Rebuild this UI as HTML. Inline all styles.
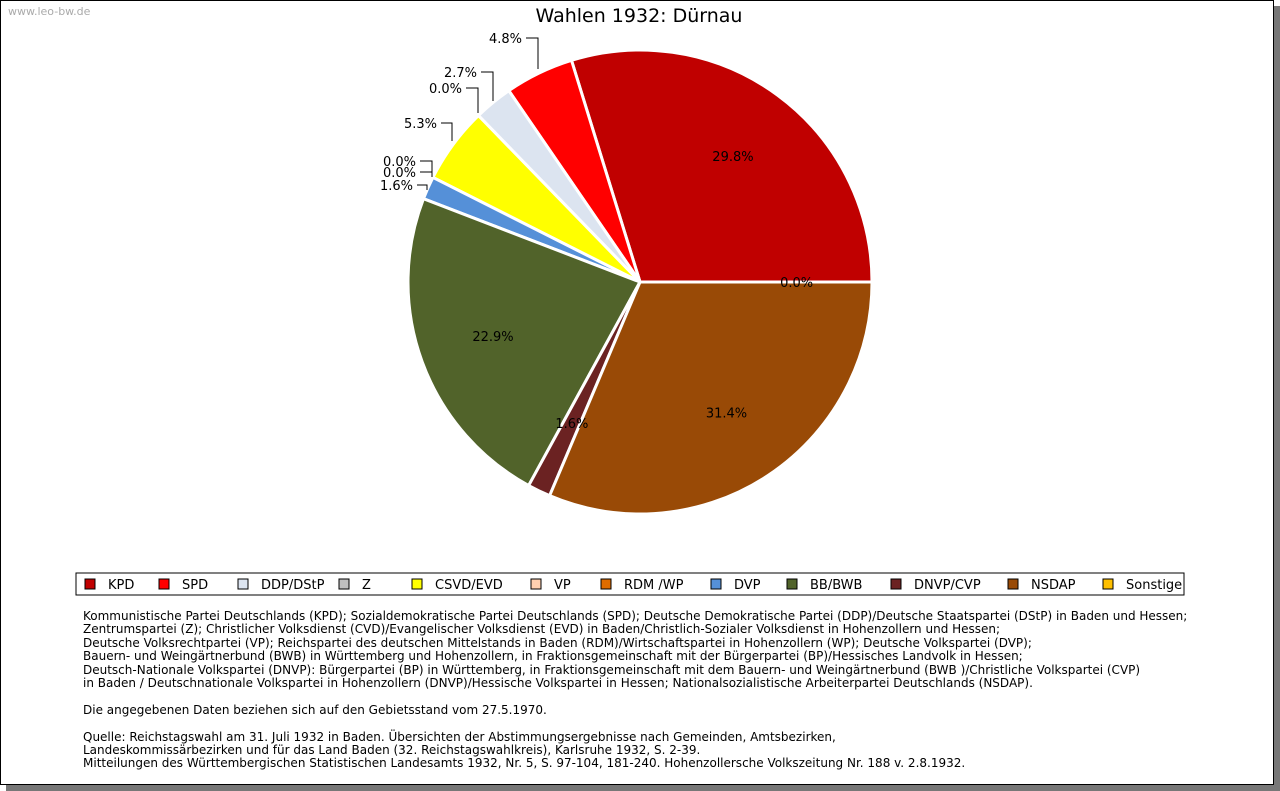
<!DOCTYPE html>
<html><head><meta charset="utf-8"><style>
body{margin:0;background:#fff;font-family:"DejaVu Sans","Liberation Sans",sans-serif}
#frame{position:absolute;left:0;top:0;width:1272px;height:783px;border:1px solid #000;background:#fff;box-shadow:6px 6px 0 #777}
#wm{position:absolute;left:7px;top:4px;font-size:11px;color:#aaa}
#notes{position:absolute;left:82px;top:609px;font-size:12px;line-height:13.4px;color:#000;white-space:pre}
</style></head><body>
<div id="frame">
<div id="wm">www.leo-bw.de</div>
<svg id="svg" width="1274" height="600" style="position:absolute;left:0;top:0">
<text x="638" y="21" text-anchor="middle" font-size="19">Wahlen 1932: Dürnau</text>
<g id="slices"></g><g id="labels" font-size="13"></g>
<rect x="75" y="572" width="1108" height="22" fill="#fff" stroke="#000"/>
<g id="legend" font-size="13"></g>
</svg>
<div id="notes">Kommunistische Partei Deutschlands (KPD); Sozialdemokratische Partei Deutschlands (SPD); Deutsche Demokratische Partei (DDP)/Deutsche Staatspartei (DStP) in Baden und Hessen;
Zentrumspartei (Z); Christlicher Volksdienst (CVD)/Evangelischer Volksdienst (EVD) in Baden/Christlich-Sozialer Volksdienst in Hohenzollern und Hessen;
Deutsche Volksrechtpartei (VP); Reichspartei des deutschen Mittelstands in Baden (RDM)/Wirtschaftspartei in Hohenzollern (WP); Deutsche Volkspartei (DVP);
Bauern- und Weingärtnerbund (BWB) in Württemberg und Hohenzollern, in Fraktionsgemeinschaft mit der Bürgerpartei (BP)/Hessisches Landvolk in Hessen;
Deutsch-Nationale Volkspartei (DNVP): Bürgerpartei (BP) in Württemberg, in Fraktionsgemeinschaft mit dem Bauern- und Weingärtnerbund (BWB )/Christliche Volkspartei (CVP)
in Baden / Deutschnationale Volkspartei in Hohenzollern (DNVP)/Hessische Volkspartei in Hessen; Nationalsozialistische Arbeiterpartei Deutschlands (NSDAP).

Die angegebenen Daten beziehen sich auf den Gebietsstand vom 27.5.1970.

Quelle: Reichstagswahl am 31. Juli 1932 in Baden. Übersichten der Abstimmungsergebnisse nach Gemeinden, Amtsbezirken,
Landeskommissärbezirken und für das Land Baden (32. Reichstagswahlkreis), Karlsruhe 1932, S. 2-39.
Mitteilungen des Württembergischen Statistischen Landesamts 1932, Nr. 5, S. 97-104, 181-240. Hohenzollersche Volkszeitung Nr. 188 v. 2.8.1932.</div>
</div>
<script>
const parties=["KPD","SPD","DDP/DStP","Z","CSVD/EVD","VP","RDM /WP","DVP","BB/BWB","DNVP/CVP","NSDAP","Sonstige"];
const values=[29.8,4.8,2.7,0.0,5.3,0.0,0.0,1.6,22.9,1.6,31.4,0.0];
const colors=["#c00000","#ff0000","#dce4f0","#c0c0c0","#ffff00","#ffd0b0","#e06c00","#5590d8","#51632a","#6b2222","#994a06","#ffc000"];
const legendX=[84,158,237,338,411,530,600,710,786,890,1007,1102];
const cx=639,cy=281,R=232,NS="http://www.w3.org/2000/svg";
const total=values.reduce((a,b)=>a+b,0);
function pt(a,r){return [cx+r*Math.cos(a*Math.PI/180),cy-r*Math.sin(a*Math.PI/180)];}
const sg=document.getElementById('slices'),lg=document.getElementById('labels');
let acc=0;const mids=[];
values.forEach((v,i)=>{
 const a0=acc/total*360,a1=(acc+v)/total*360;acc+=v;mids.push((a0+a1)/2);
 if(v<=0)return;
 const p0=pt(a0,R),p1=pt(a1,R);
 const p=document.createElementNS(NS,'path');
 p.setAttribute('d',`M${cx},${cy}L${p0[0]},${p0[1]}A${R},${R} 0 ${a1-a0>180?1:0} 0 ${p1[0]},${p1[1]}Z`);
 p.setAttribute('fill',colors[i]);p.setAttribute('stroke','#fff');p.setAttribute('stroke-width','3');
 
 
 sg.appendChild(p);
});
function txt(x,y,s,anchor){const t=document.createElementNS(NS,'text');t.setAttribute('x',x);t.setAttribute('y',y);t.setAttribute('text-anchor',anchor);t.textContent=s;
 
 
 lg.appendChild(t);}
const outside={1:[521,42,537,68],2:[476,76,492,100],3:[461,92,477,112],4:[436,127,451,140],5:[415,165,431,175],6:[415,176,431,176],7:[412,189,426,189]};
values.forEach((v,i)=>{
 const s=v.toFixed(1)+'%';
 if(outside[i]){const [tx,ty,lx,ly]=outside[i];txt(tx,ty,s,'end');
  const l=document.createElementNS(NS,'path');l.setAttribute('d',`M${tx+4},${ty-5}H${lx}V${ly}`);l.setAttribute('fill','none');l.setAttribute('stroke','#000');
  
  
  lg.appendChild(l);}
 else{const p=pt(mids[i],0.675*R);txt(p[0],p[1]+5,s,'middle');}
});
const lgd=document.getElementById('legend');
parties.forEach((n,i)=>{
 const r=document.createElementNS(NS,'rect');r.setAttribute('x',legendX[i]);r.setAttribute('y',578);r.setAttribute('width',10);r.setAttribute('height',10);r.setAttribute('fill',colors[i]);r.setAttribute('stroke','#000');
 
 
 lgd.appendChild(r);
 const t=document.createElementNS(NS,'text');t.setAttribute('x',legendX[i]+23);t.setAttribute('y',588);t.textContent=n;
 
 
 lgd.appendChild(t);
});
</script>
</body></html>
